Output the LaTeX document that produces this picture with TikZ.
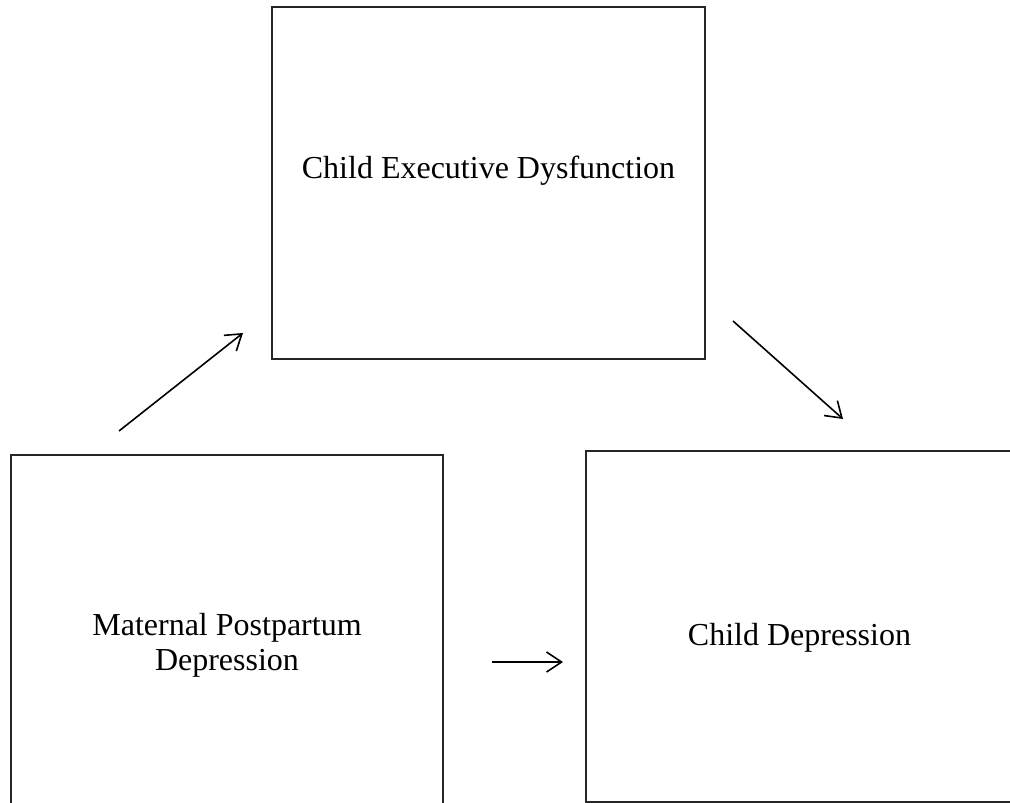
\documentclass[tikz,border=0pt]{standalone}
\usepackage{fontspec}
\setmainfont{Liberation Serif}
\usetikzlibrary{arrows.meta}
\begin{document}
\begin{tikzpicture}[x=1pt,y=-1pt,
  box/.style={draw=black!85,line width=1.3pt,rectangle,inner sep=0pt,outer sep=0pt},
  lbl/.style={font=\fontsize{32}{35}\selectfont,inner sep=0pt,align=center,anchor=base},
  conn/.style={line width=1.6pt,-{Straight Barb[length=15pt,width=20pt]}}]
\useasboundingbox (0,0) rectangle (1010,803);
\clip (0,0) rectangle (1010,803);
\node[box,minimum width=433pt,minimum height=352pt] (ced) at (488.5,183) {};
\node[box,minimum width=432pt,minimum height=370pt] (mpd) at (227,640) {};
\node[box,minimum width=440pt,minimum height=351pt] (cd) at (806,626.5) {};
\node[lbl] (tced) at (488.5,178) {Child Executive Dysfunction};
\node[lbl] (tmpd) at (227,670) {Maternal Postpartum\\Depression};
\node[lbl] (tcd) at (799.5,645) {Child Depression};
\coordinate (a1s) at (119,431);
\coordinate (a1e) at (243,333);
\coordinate (a2s) at (733,321);
\coordinate (a2e) at (843,419);
\coordinate (a3s) at (492,662);
\coordinate (a3e) at (563,662);
\draw[conn] (a1s) -- (a1e);
\draw[conn] (a2s) -- (a2e);
\draw[conn] (a3s) -- (a3e);
\end{tikzpicture}
\end{document}
